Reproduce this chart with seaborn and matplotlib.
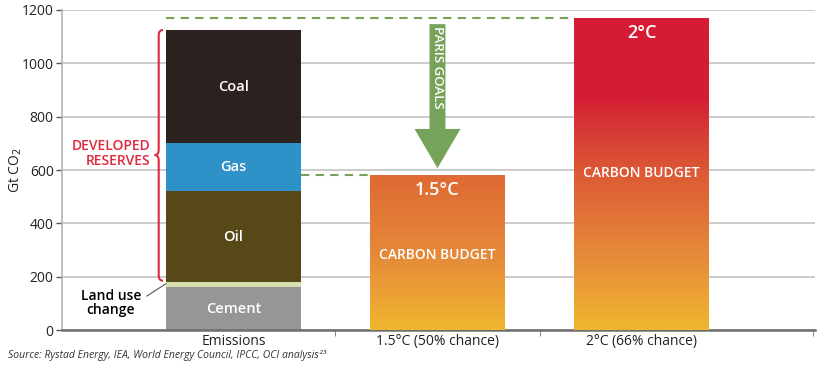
import numpy as np
import pandas as pd
import seaborn as sns
import matplotlib.pyplot as plt
from matplotlib.colors import LinearSegmentedColormap
from matplotlib.patches import FancyArrow, PathPatch
from matplotlib.path import Path

# data (Gt CO2)
categories = ['Emissions', '1.5°C (50% chance)', '2°C (66% chance)']
cement = [160, 0, 0]
land_use = [20, 0, 0]
oil = [340, 0, 0]
gas = [180, 0, 0]
coal = [425, 0, 0]
budget = [0, 580, 1170]
yticks = [0, 200, 400, 600, 800, 1000, 1200]

sns.set_style('white')
plt.rcParams['font.family'] = ['Open Sans', 'DejaVu Sans']

fig = plt.figure(figsize=(8.23, 3.70), dpi=100)
ax = fig.add_axes([0.0753, 0.108, 0.915, 0.865])

# stacked bars: draw cumulative totals from the top down
layers = [
    ('coal', np.array(cement) + land_use + oil + gas + coal + budget, '#2b2220'),
    ('gas', np.array(cement) + land_use + oil + gas, '#2e91c8'),
    ('oil', np.array(cement) + land_use + oil, '#574917'),
    ('land', np.array(cement) + land_use, '#d8dfae'),
    ('cement', np.array(cement), '#989694'),
]
for name, heights, col in layers:
    df = pd.DataFrame({'cat': categories, 'val': heights})
    sns.barplot(data=df, x='cat', y='val', color=col, width=0.66,
                saturation=1, linewidth=0, edgecolor='none', ax=ax, zorder=2)

# gradient fills for the two carbon budgets
cm15 = LinearSegmentedColormap.from_list('b15', ['#f0b62f', '#e5883a', '#df6a33'])
cm20 = LinearSegmentedColormap.from_list(
    'b20', [(0, '#f0b62f'), (0.25, '#e5883a'), (0.5, '#dc5a34'),
            (0.7, '#d42b35'), (0.75, '#d61c35'), (1, '#d61c35')])
grad = np.linspace(0, 1, 256).reshape(-1, 1)
for p in list(ax.patches):
    h = p.get_height()
    for target, cmap in [(budget[1], cm15), (budget[2], cm20)]:
        if abs(h - target) < 1:
            x0, w = p.get_x(), p.get_width()
            im = ax.imshow(grad, extent=[x0, x0 + w, 0, h], origin='lower',
                           cmap=cmap, aspect='auto', zorder=3)
            im.set_clip_path(p)

ax.set_xlim(-0.84, 2.85)
ax.set_ylim(0, 1200)
ax.set_yticks(yticks)
ax.set_axisbelow(True)
ax.yaxis.grid(True, color='#c2c2c2', lw=1.2)
sns.despine(ax=ax, top=True, right=True)
ax.spines['left'].set_color('#b5b5b5')
ax.spines['left'].set_linewidth(1.2)
ax.spines['bottom'].set_color('#6e6e6e')
ax.spines['bottom'].set_linewidth(1.8)
ax.tick_params(axis='y', left=True, length=4, width=1, color='#555555',
               labelsize=10, labelcolor='#222222', pad=2)
ax.tick_params(axis='x', length=0, labelsize=10, labelcolor='#222222', pad=3)
ax.set_xticks([0.5, 1.5, 2.84], minor=True)
ax.tick_params(axis='x', which='minor', bottom=True, length=4, color='#6e6e6e')
ax.set_xlabel('')
ax.set_ylabel('Gt CO$_2$', fontsize=10, color='#222222')
ax.yaxis.set_label_coords(-0.051, 0.5)

# segment labels
lab = dict(color='white', ha='center', va='center', fontweight='semibold')
ax.text(0, 912, 'Coal', fontsize=10.5, **lab)
ax.text(0, 610, 'Gas', fontsize=10.5, **lab)
ax.text(0, 350, 'Oil', fontsize=10.5, **lab)
ax.text(0, 80, 'Cement', fontsize=10.5, **lab)
ax.text(1, 525, '1.5°C', fontsize=13, **lab)
ax.text(1, 281, 'CARBON BUDGET', fontsize=10, **lab)
ax.text(2, 1114, '2°C', fontsize=13, **lab)
ax.text(2, 589, 'CARBON BUDGET', fontsize=10, **lab)

# dashed reference lines
green = '#76a25a'
ax.plot([-0.33, 1.665], [1170, 1170], ls=(0, (4, 3)), color=green, lw=1.5, zorder=4)
ax.plot([0.331, 0.669], [580, 580], ls=(0, (4, 3)), color=green, lw=1.5, zorder=4)

# Paris goals arrow
ax.add_patch(FancyArrow(1.0, 1147, 0, -540, width=0.078, head_width=0.225,
                        head_length=147, length_includes_head=True,
                        color=green, lw=0, zorder=4))
ax.text(1.0, 1140, 'PARIS GOALS', rotation=-90, ha='center', va='top',
        color='white', fontsize=9.5, fontweight='semibold', zorder=5)

# developed reserves brace
red = '#e0293c'
r, m, l, top, bot, mid = -0.345, -0.366, -0.386, 1125, 185, 656
verts = [(r, top), (m, top), (m, top - 20), (m, mid + 20), (m, mid), (l, mid),
         (m, mid), (m, mid - 20), (m, bot + 20), (m, bot), (r, bot)]
codes = [Path.MOVETO, Path.CURVE3, Path.CURVE3, Path.LINETO, Path.CURVE3, Path.CURVE3,
         Path.CURVE3, Path.CURVE3, Path.LINETO, Path.CURVE3, Path.CURVE3]
ax.add_patch(PathPatch(Path(verts, codes), fill=False, edgecolor=red, lw=1.5,
                       clip_on=False, zorder=4))
ax.text(-0.405, 662, 'DEVELOPED\nRESERVES', color=red, ha='right', va='center',
        fontsize=10, fontweight='semibold', linespacing=1.05)

# land use change callout
ax.text(-0.6, 102, 'Land use\nchange', color='black', ha='center', va='center',
        fontsize=10, fontweight='semibold', linespacing=1.05)
ax.plot([-0.425, -0.33], [127, 174], color='#555555', lw=0.8, zorder=4)

fig.text(0.01, 0.04, 'Source: Rystad Energy, IEA, World Energy Council, IPCC, OCI analysis²³',
         fontsize=7.5, style='italic', color='#333333', va='center')

fig.savefig('out.png', dpi=100)
